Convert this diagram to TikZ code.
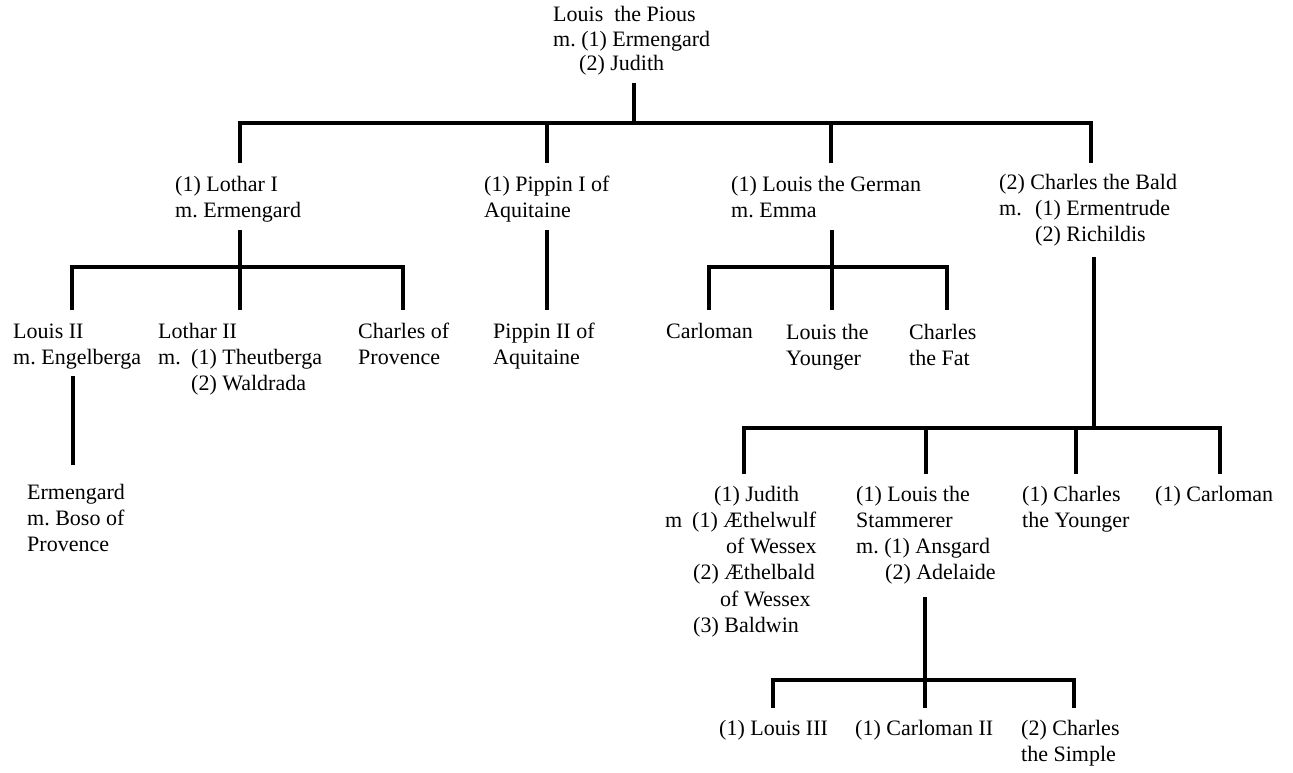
\documentclass[tikz,border=0pt]{standalone}
\usepackage{fontspec}
\setmainfont{Liberation Serif}
\frenchspacing
\begin{document}
\begin{tikzpicture}[x=1pt,y=-1pt,
  person/.style={anchor=base west, inner sep=0pt, align=left, font=\fontsize{22}{26.3}\selectfont},
  link/.style={line width=3.8pt, line join=miter, line cap=butt, black}]
\useasboundingbox (0,0) rectangle (1293,772);
\fill[white] (0,0) rectangle (1293,772);

% ---- people (each placed by the baseline of its last line) ----
\node[person, font=\fontsize{22}{24.3}\selectfont] (pious) at (553,70.3)
  {Louis\ \ the Pious\\m. (1) Ermengard\\\hspace*{26pt}(2) Judith};

\node[person] (lotharI) at (175,217.3) {(1) Lothar I\\m. Ermengard};
\node[person] (pippinI) at (484,217.3) {(1) Pippin I of\\Aquitaine};
\node[person] (louisG) at (731,217.3) {(1) Louis the German\\m. Emma};
\node[person] (charlesB) at (999,241.6)
  {(2) Charles the Bald\\\makebox[36pt][l]{m.}(1) Ermentrude\\\hspace*{36pt}(2) Richildis};

\node[person] (louisII) at (13,364.3) {Louis II\\m. Engelberga};
\node[person] (lotharII) at (158,390.6)
  {Lothar II\\\makebox[33pt][l]{m.}(1) Theutberga\\\hspace*{33pt}(2) Waldrada};
\node[person] (charlesP) at (358,364.3) {Charles of\\Provence};
\node[person] (pippinII) at (493,364.3) {Pippin II of\\Aquitaine};
\node[person] (carlomanG) at (666,338) {Carloman};
\node[person] (louisY) at (786,365.3) {Louis the\\Younger};
\node[person] (charlesF) at (909,365.3) {Charles\\the Fat};

\node[person] (ermengard) at (27,551.6) {Ermengard\\m. Boso of\\Provence};

\node[person] (judith) at (665,632.5)
  {\hspace*{49pt}(1) Judith\\\makebox[27pt][l]{m}(1) Æthelwulf\\\hspace*{61pt}of Wessex\\\hspace*{28pt}(2) Æthelbald\\\hspace*{55pt}of Wessex\\\hspace*{28pt}(3) Baldwin};
\node[person] (louisS) at (856,579.9)
  {(1) Louis the\\Stammerer\\m. (1) Ansgard\\\hspace*{29pt}(2) Adelaide};
\node[person] (charlesY) at (1022,527.3) {(1) Charles\\the Younger};
\node[person] (carlomanB) at (1155,501) {(1) Carloman};

\node[person] (louisIII) at (719,735) {(1) Louis III};
\node[person] (carlomanII) at (855,735) {(1) Carloman II};
\node[person] (charlesS) at (1021,761.3) {(2) Charles\\the Simple};

% ---- connector points ----
\coordinate (pious-s) at (634,83);
\coordinate (bar1) at (634,123);
\coordinate (lotharI-n) at (240,163);
\coordinate (pippinI-n) at (547,163);
\coordinate (louisG-n) at (831,163);
\coordinate (charlesB-n) at (1091,163);

\coordinate (lotharI-s) at (240,230);
\coordinate (bar2) at (240,267);
\coordinate (louisII-n) at (72,310);
\coordinate (lotharII-n) at (240,310);
\coordinate (charlesP-n) at (403,310);

\coordinate (pippinI-s) at (547,230);
\coordinate (pippinII-n) at (547,310);

\coordinate (louisG-s) at (832,230);
\coordinate (bar3) at (832,267);
\coordinate (carlomanG-n) at (709,310);
\coordinate (louisY-n) at (832,310);
\coordinate (charlesF-n) at (947,310);

\coordinate (louisII-s) at (73,376);
\coordinate (ermengard-n) at (73,465);

\coordinate (charlesB-s) at (1094,257);
\coordinate (bar4) at (1094,428);
\coordinate (judith-n) at (744,474);
\coordinate (louisS-n) at (926,474);
\coordinate (charlesY-n) at (1076,474);
\coordinate (carlomanB-n) at (1220,474);

\coordinate (louisS-s) at (925,597);
\coordinate (bar5) at (925,680);
\coordinate (louisIII-n) at (773,708);
\coordinate (carlomanII-n) at (925,708);
\coordinate (charlesS-n) at (1074,708);

% ---- connectors ----
\draw[link] (pious-s) -- (bar1);
\draw[link] (lotharI-n) |- (bar1) -| (charlesB-n);
\draw[link] (pippinI-n) -- (pippinI-n |- bar1);
\draw[link] (louisG-n) -- (louisG-n |- bar1);

\draw[link] (lotharI-s) -- (lotharII-n);
\draw[link] (louisII-n) |- (bar2) -| (charlesP-n);

\draw[link] (pippinI-s) -- (pippinII-n);

\draw[link] (louisG-s) -- (louisY-n);
\draw[link] (carlomanG-n) |- (bar3) -| (charlesF-n);

\draw[link] (louisII-s) -- (ermengard-n);

\draw[link] (charlesB-s) -- (bar4);
\draw[link] (judith-n) |- (bar4) -| (carlomanB-n);
\draw[link] (louisS-n) -- (louisS-n |- bar4);
\draw[link] (charlesY-n) -- (charlesY-n |- bar4);

\draw[link] (louisS-s) -- (carlomanII-n);
\draw[link] (louisIII-n) |- (bar5) -| (charlesS-n);
\end{tikzpicture}
\end{document}
